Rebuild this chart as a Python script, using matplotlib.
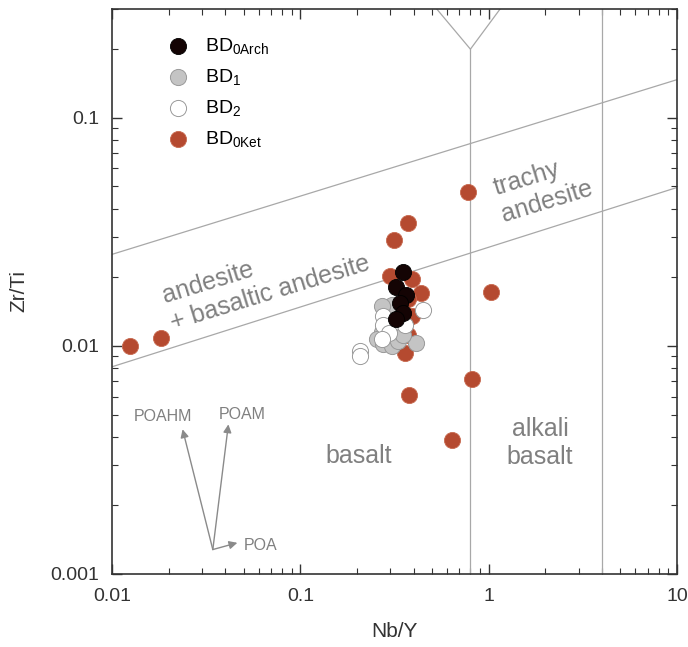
import matplotlib.pyplot as plt

plt.rcParams['font.family'] = ['Liberation Sans', 'DejaVu Sans']
plt.rcParams['mathtext.fontset'] = 'custom'
plt.rcParams['mathtext.rm'] = 'Liberation Sans'

# sample groups, Nb/Y vs Zr/Ti
ket_nby = [0.0125, 0.0181, 0.78, 0.371, 0.315, 0.299, 0.391, 0.435, 1.026,
           0.360, 0.813, 0.379, 0.640, 0.372, 0.391, 0.372]
ket_zrti = [0.0100, 0.0108, 0.0473, 0.0347, 0.0291, 0.0202, 0.0196, 0.0170, 0.0173,
            0.00934, 0.00718, 0.00607, 0.00385, 0.0160, 0.0135, 0.0112]

arch_nby = [0.350, 0.322, 0.364, 0.339, 0.350, 0.322]
arch_zrti = [0.0211, 0.0182, 0.0167, 0.0155, 0.0140, 0.0131]

bd1_nby = [0.306, 0.271, 0.271, 0.255, 0.276, 0.306, 0.332, 0.412, 0.352]
bd1_zrti = [0.0151, 0.0150, 0.0115, 0.0107, 0.0102, 0.0100, 0.0105, 0.0103, 0.0112]

bd2_nby = [0.276, 0.276, 0.297, 0.271, 0.360, 0.450, 0.208, 0.208]
bd2_zrti = [0.0135, 0.0124, 0.0114, 0.0107, 0.0124, 0.0144, 0.0095, 0.0090]

# field boundaries of the diagram
upper_x, upper_y = [0.01, 10], [0.0252, 0.147]
lower_x, lower_y = [0.01, 10], [0.0081, 0.0495]

fig = plt.figure(figsize=(6.88, 6.47), dpi=100)
ax = fig.add_axes([112/688, 73/647, 565/688, 565/647])
ax.set_xscale('log')
ax.set_yscale('log')
ax.set_xlim(0.01, 10)
ax.set_ylim(0.001, 0.3)

lc = '#a8a8a8'
ax.plot(upper_x, upper_y, color=lc, lw=0.9)
ax.plot(lower_x, lower_y, color=lc, lw=0.9)
ax.plot([0.8, 0.8], [0.001, 0.2], color=lc, lw=0.9)
ax.plot([0.53, 0.8, 1.15], [0.3, 0.2, 0.3], color=lc, lw=0.9)
ax.plot([4, 4], [0.001, 0.3], color=lc, lw=0.9)

ms = 135
ax.scatter(ket_nby, ket_zrti, s=ms, color='#b54a30', edgecolor='#c86a50', lw=0.6,
           label='BD$_{\\mathrm{0Ket}}$', zorder=3)
ax.scatter(bd1_nby, bd1_zrti, s=ms, color='#c4c4c4', edgecolor='#9a9a9a', lw=0.7,
           label='BD$_{\\mathrm{1}}$', zorder=4)
ax.scatter(bd2_nby, bd2_zrti, s=ms, color='white', edgecolor='#9a9a9a', lw=0.7,
           label='BD$_{\\mathrm{2}}$', zorder=5)
ax.scatter(arch_nby, arch_zrti, s=ms, color='#140404', edgecolor='#000000', lw=0.6,
           label='BD$_{\\mathrm{0Arch}}$', zorder=6)

h, l = ax.get_legend_handles_labels()
order = [3, 1, 2, 0]
ax.legend([h[i] for i in order], [l[i] for i in order], loc='upper left',
          bbox_to_anchor=(0.085, 0.965), frameon=False, fontsize=14,
          handlelength=1.0, handletextpad=0.9, labelspacing=0.55, borderaxespad=0)

tc = '#808080'
ax.text(0.0658, 0.0196, 'andesite\n+ basaltic andesite', rotation=17, fontsize=18,
        color=tc, ha='center', va='center', multialignment='left')
ax.text(1.945, 0.0491, 'trachy\nandesite', rotation=17, fontsize=18,
        color=tc, ha='center', va='center', multialignment='left')
ax.text(0.205, 0.00330, 'basalt', fontsize=18, color=tc, ha='center', va='center')
ax.text(1.875, 0.00375, 'alkali\nbasalt', fontsize=18, color=tc, ha='center',
        va='center', multialignment='center')

# POA vectors
origin = (0.0343, 0.00128)
ap = dict(arrowstyle='-|>', color='#8a8a8a', lw=1.0, mutation_scale=12,
          shrinkA=0, shrinkB=0)
ax.annotate('', xy=(0.0237, 0.00431), xytext=origin, arrowprops=ap)
ax.annotate('', xy=(0.0415, 0.00453), xytext=origin, arrowprops=ap)
ax.annotate('', xy=(0.0463, 0.00137), xytext=origin, arrowprops=ap)
ax.text(0.01858, 0.00489, 'POAHM', fontsize=11.5, color=tc, ha='center', va='center')
ax.text(0.0494, 0.00501, 'POAM', fontsize=11.5, color=tc, ha='center', va='center')
ax.text(0.0618, 0.001337, 'POA', fontsize=11.5, color=tc, ha='center', va='center')

ax.set_xticks([0.01, 0.1, 1, 10], ['0.01', '0.1', '1', '10'])
ax.set_yticks([0.001, 0.01, 0.1], ['0.001', '0.01', '0.1'])
ax.tick_params(which='both', direction='in', top=True, right=True, colors='#333333',
               labelsize=14, labelcolor='#333333')
ax.tick_params(axis='x', which='major', pad=10)
ax.tick_params(axis='y', which='major', pad=9)
ax.tick_params(which='major', length=7, width=1)
ax.tick_params(which='minor', length=4, width=0.8)
for s in ax.spines.values():
    s.set_color('#333333')
    s.set_linewidth(1.2)

ax.set_xlabel('Nb/Y', fontsize=15, color='#333333', labelpad=12)
ax.set_ylabel('Zr/Ti', fontsize=15, color='#333333', labelpad=16)

fig.savefig('out.png', dpi=100)
